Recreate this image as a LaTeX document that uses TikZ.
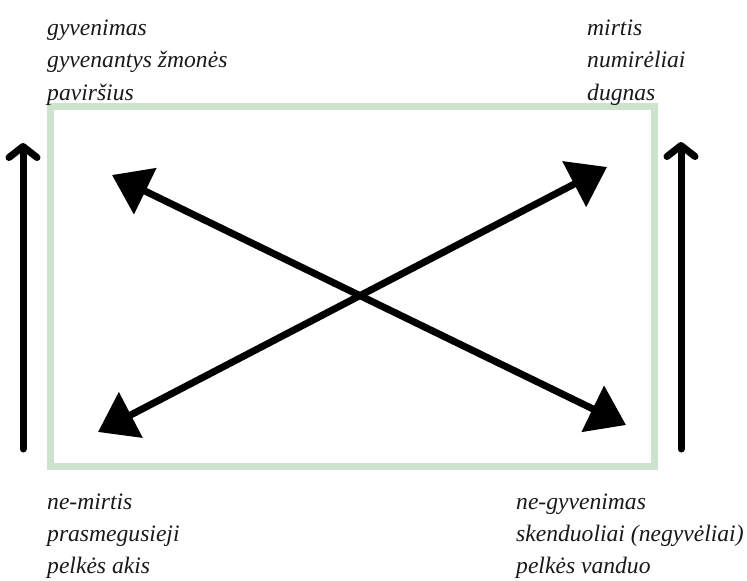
\documentclass[tikz,border=0pt]{standalone}
\usepackage{fontspec}
\setmainfont{Liberation Serif}
\usepackage{xcolor}
\usetikzlibrary{arrows.meta,positioning}
\definecolor{boxgreen}{RGB}{206,227,206}

\begin{document}
\begin{tikzpicture}[x=1pt,y=-1pt,
    txt/.style={inner sep=0pt, anchor=base west, font=\fontsize{23.6}{32.5}\selectfont\itshape, text=black!90},
    dbl/.style={line width=7pt, {Triangle[length=37pt,width=50pt]}-{Triangle[length=37pt,width=50pt]}},
    up/.style={line width=7pt, line cap=round, -{Straight Barb[round,length=11pt,width=28pt]}}]
        \useasboundingbox (0,0) rectangle (747,581);
        % frame
        \draw[boxgreen, line width=7pt] (50.5,106) rectangle (654.5,466.5);

        % labels
        \node[txt] (gyv) at (47,35) {gyvenimas};
        \node[txt] (zmon) at (47,67.5) {gyvenantys žmonės};
        \node[txt] (pav) at (47,100) {paviršius};
        \node[txt] (mirt) at (587,35) {mirtis};
        \node[txt] (numir) at (587,67.5) {numirėliai};
        \node[txt] (dug) at (587,100) {dugnas};
        \node[txt] (nemirt) at (47,509) {ne-mirtis};
        \node[txt] (prasm) at (47,541) {prasmegusieji};
        \node[txt] (akis) at (47,573) {pelkės akis};
        \node[txt] (negyv) at (516,509) {ne-gyvenimas};
        \node[txt] (skend) at (516,541) {skenduoliai (negyvėliai)};
        \node[txt] (vand) at (516,573) {pelkės vanduo};

        \coordinate (ul) at (112,175);
        \coordinate (lr) at (626,425);
        \coordinate (ll) at (98,432);
        \coordinate (ur) at (607,167);
        \coordinate (lb) at (23,449);
        \coordinate (lt) at (23,143);
        \coordinate (rb) at (681,449);
        \coordinate (rt) at (681,142);

        \draw [dbl] (ul) -- (lr);
        \draw [dbl] (ll) -- (ur);
        \draw [up] (lb) -- (lt);
        \draw [up] (rb) -- (rt);
\end{tikzpicture}
\end{document}
